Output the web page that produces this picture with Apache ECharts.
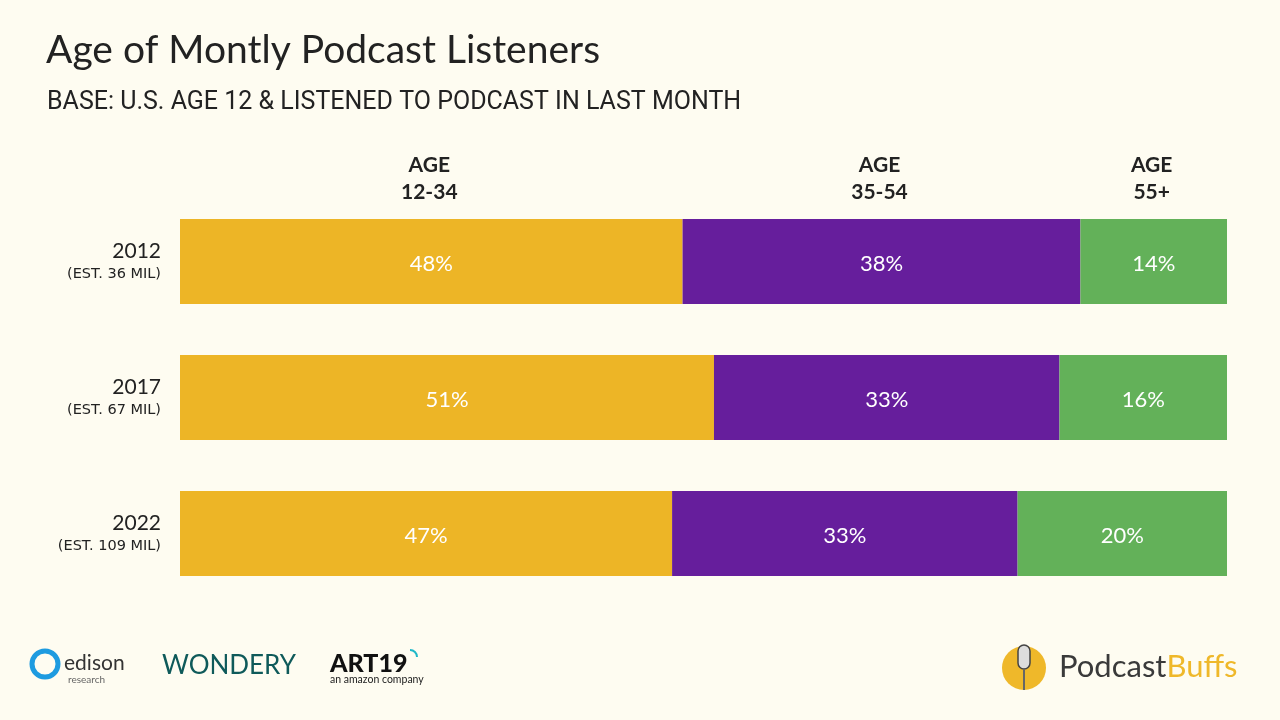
<!DOCTYPE html>
<html>
<head>
<meta charset="utf-8">
<script src="https://cdn.jsdelivr.net/npm/echarts@6/dist/echarts.min.js"></script>
<style>
html,body{margin:0;padding:0;background:#fefcf1;}
#c{width:1280px;height:720px;}
</style>
</head>
<body>
<div id="c"></div>
<script>
const years = ['2012', '2017', '2022'];
const estimates = ['(EST. 36 MIL)', '(EST. 67 MIL)', '(EST. 109 MIL)'];
const groups = ['AGE\n12-34', 'AGE\n35-54', 'AGE\n55+'];
const age12_34 = [48, 51, 47];
const age35_54 = [38, 33, 33];
const age55 = [14, 16, 20];
const colors = ['#edb526', '#661e9c', '#63b159'];

const chart = echarts.init(document.getElementById('c'));
const seriesData = [age12_34, age35_54, age55];

function barSeries(i) {
  return {
    type: 'bar',
    name: groups[i],
    stack: 'total',
    data: seriesData[i],
    barWidth: 85,
    itemStyle: { color: colors[i] },
    label: {
      show: true,
      position: 'inside',
      offset: [0, 2],
      formatter: '{c}%',
      color: '#ffffff',
      fontFamily: 'Lato',
      fontSize: 22
    },
    silent: true
  };
}

chart.setOption({
  backgroundColor: '#fefcf1',
  animation: false,
  grid: { left: 180, right: 53, top: 193.5, height: 408 },
  xAxis: { type: 'value', min: 0, max: 100, show: false },
  yAxis: {
    type: 'category',
    inverse: true,
    data: years,
    axisLine: { show: false },
    axisTick: { show: false },
    axisLabel: {
      margin: 19,
      formatter: function (v, idx) { return '{y|' + v + '}\n{e|' + estimates[idx] + '}'; },
      rich: {
        y: { fontFamily: 'Lato', fontSize: 21, color: '#222222', align: 'right', lineHeight: 26 },
        e: { fontFamily: 'DejaVu Sans', fontSize: 14.5, color: '#222222', align: 'right', lineHeight: 20 }
      }
    }
  },
  title: [
    { text: 'Age of Montly Podcast Listeners', left: 41, top: 26,
      textStyle: { fontFamily: 'Lato', fontWeight: 'normal', fontSize: 39, color: '#222222' } },
    { text: 'BASE: U.S. AGE 12 & LISTENED TO PODCAST IN LAST MONTH', left: 42, top: 85,
      textStyle: { fontFamily: 'Roboto', fontWeight: 'normal', fontSize: 25, color: '#222222' } }
  ],
  series: [barSeries(0), barSeries(1), barSeries(2)]
});

// group headers centred over the 2012 segments
const headers = [];
let cum = 0;
for (let i = 0; i < groups.length; i++) {
  const mid = cum + seriesData[i][0] / 2;
  cum += seriesData[i][0];
  const p = chart.convertToPixel({ gridIndex: 0 }, [mid, years[0]]);
  headers.push({
    type: 'text', x: p[0] - 2, y: 152,
    style: { text: groups[i], fill: '#222222', fontFamily: 'Lato', fontWeight: 'bold',
      fontSize: 21, lineHeight: 27, align: 'center', verticalAlign: 'top' }
  });
}

const logos = [
  // edison
  { type: 'circle', shape: { cx: 45, cy: 664, r: 13 }, style: { fill: 'none', stroke: '#1e9be0', lineWidth: 5 } },
  { type: 'text', x: 64, y: 663, style: { text: 'edison', fill: '#333333', fontFamily: 'Lato', fontSize: 21, verticalAlign: 'middle' } },
  { type: 'text', x: 68, y: 680, style: { text: 'research', fill: '#666666', fontFamily: 'Lato', fontSize: 10, verticalAlign: 'middle' } },
  // wondery
  { type: 'text', x: 162, y: 666, style: { text: 'WONDERY', fill: '#0f5a5a', fontFamily: 'Lato', fontSize: 26, fontWeight: 'normal', verticalAlign: 'middle' } },
  // art19
  { type: 'text', x: 330, y: 664, style: { text: 'ART19', fill: '#111111', fontFamily: 'Lato', fontSize: 25, fontWeight: 900, verticalAlign: 'middle' } },
  { type: 'text', x: 330, y: 680, style: { text: 'an amazon company', fill: '#222222', fontFamily: 'Lato', fontSize: 10.5, verticalAlign: 'middle' } },
  { type: 'arc', shape: { cx: 410, cy: 657, r: 7, startAngle: -Math.PI / 2, endAngle: 0 }, style: { stroke: '#1fb8c8', lineWidth: 2, fill: 'none' } },
  // podcastbuffs
  { type: 'circle', shape: { cx: 1024, cy: 668, r: 22 }, style: { fill: '#efb82a' } },
  { type: 'rect', shape: { x: 1018, y: 645, width: 12, height: 24, r: 6 }, style: { fill: '#dddddd', stroke: '#444444', lineWidth: 1.5 } },
  { type: 'rect', shape: { x: 1023, y: 669, width: 2, height: 21 }, style: { fill: '#666666' } },
  { type: 'text', x: 1059, y: 667, style: { text: '{a|Podcast}{b|Buffs}', verticalAlign: 'middle',
      rich: { a: { fontFamily: 'Lato', fontSize: 31, fill: '#3a3a3a', color: '#3a3a3a' }, b: { fontFamily: 'Lato', fontSize: 31, fill: '#efb82a', color: '#efb82a' } } } }
];

chart.setOption({ graphic: headers.concat(logos) });
</script>
</body>
</html>
